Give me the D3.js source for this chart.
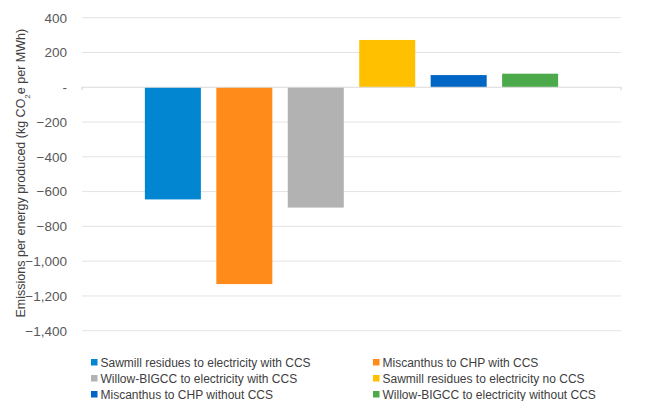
<!DOCTYPE html>
<html>
<head>
<meta charset="utf-8">
<script src="https://cdn.jsdelivr.net/npm/d3@7"></script>
<style>
  html, body { margin: 0; padding: 0; background: #fff; }
  svg { display: block; font-family: "Liberation Sans", Arial, sans-serif; }
</style>
</head>
<body>
<svg id="chart" width="664" height="401"></svg>
<script>
// Pathways and their net emissions (kg CO2e per MWh)
const pathways = [
  "Sawmill residues to electricity with CCS",
  "Miscanthus to CHP with CCS",
  "Willow-BIGCC to electricity with CCS",
  "Sawmill residues to electricity no CCS",
  "Miscanthus to CHP without CCS",
  "Willow-BIGCC to electricity without CCS"
];
const emissions = [-645, -1132, -692, 272, 70, 78];
const colors = ["#0286d1", "#ff8c1a", "#b2b2b2", "#ffc000", "#0066c5", "#4caa4b"];
const yTicks = [400, 200, 0, -200, -400, -600, -800, -1000, -1200, -1400];

const svg = d3.select("#chart");
const plotLeft = 82, plotRight = 621, plotTop = 17.7, plotBottom = 330.7;

const x = d3.scaleBand()
  .domain(pathways)
  .range([plotLeft, plotRight])
  .paddingInner(0.216)
  .paddingOuter(0.88);

const y = d3.scaleLinear()
  .domain([-1400, 400])
  .range([plotBottom, plotTop]);

const fmt = v => v === 0 ? "-" : d3.format(",")(v);

// Horizontal gridlines
svg.append("g")
  .selectAll("line")
  .data(yTicks.filter(t => t !== 0))
  .join("line")
  .attr("x1", plotLeft).attr("x2", plotRight)
  .attr("y1", d => y(d)).attr("y2", d => y(d))
  .attr("stroke", "#e3e3e3")
  .attr("stroke-width", 1);

// Y axis labels
const yAxis = svg.append("g")
  .attr("transform", `translate(${plotLeft},0)`)
  .call(d3.axisLeft(y).tickValues(yTicks).tickFormat(fmt).tickSize(0).tickPadding(15));
yAxis.select(".domain").remove();
yAxis.selectAll("text")
  .attr("fill", "#595959")
  .style("font-size", "13.5px")
  .style("font-family", "'Liberation Sans', Arial, sans-serif");

// Bars
svg.append("g")
  .selectAll("rect")
  .data(pathways)
  .join("rect")
  .attr("x", d => x(d))
  .attr("width", x.bandwidth())
  .attr("y", (d, i) => y(Math.max(0, emissions[i])))
  .attr("height", (d, i) => Math.abs(y(emissions[i]) - y(0)))
  .attr("fill", (d, i) => colors[i]);

// Zero baseline with small end ticks
const zero = y(0);
svg.append("path")
  .attr("d", `M${plotLeft},${zero + 3}V${zero}H${plotRight}V${zero + 3}`)
  .attr("fill", "none")
  .attr("stroke", "#dadada")
  .attr("stroke-width", 1.2);

// Y axis title
svg.append("text")
  .attr("transform", `translate(25,${(plotTop + plotBottom) / 2 - 1}) rotate(-90)`)
  .attr("text-anchor", "middle")
  .attr("fill", "#404040")
  .style("font-size", "12.5px")
  .call(t => {
    t.append("tspan").text("Emissions per energy produced (kg CO");
    t.append("tspan").attr("baseline-shift", "sub").style("font-size", "8px").text("2");
    t.append("tspan").text("e per MWh)");
  });

// Legend: two columns, three rows
const legend = svg.append("g");
const colX = [91, 373];
const rowY = [362.5, 378.5, 394.5];
pathways.forEach((p, i) => {
  const gx = colX[i % 2], gy = rowY[Math.floor(i / 2)];
  const item = legend.append("g").attr("transform", `translate(${gx},${gy})`);
  item.append("rect")
    .attr("x", 0).attr("y", -3.5)
    .attr("width", 6.5).attr("height", 6.5)
    .attr("fill", colors[i]);
  item.append("text")
    .attr("x", 9.5).attr("y", 0)
    .attr("dy", "0.35em")
    .attr("fill", "#404040")
    .style("font-size", "12px")
    .text(p);
});
</script>
</body>
</html>
